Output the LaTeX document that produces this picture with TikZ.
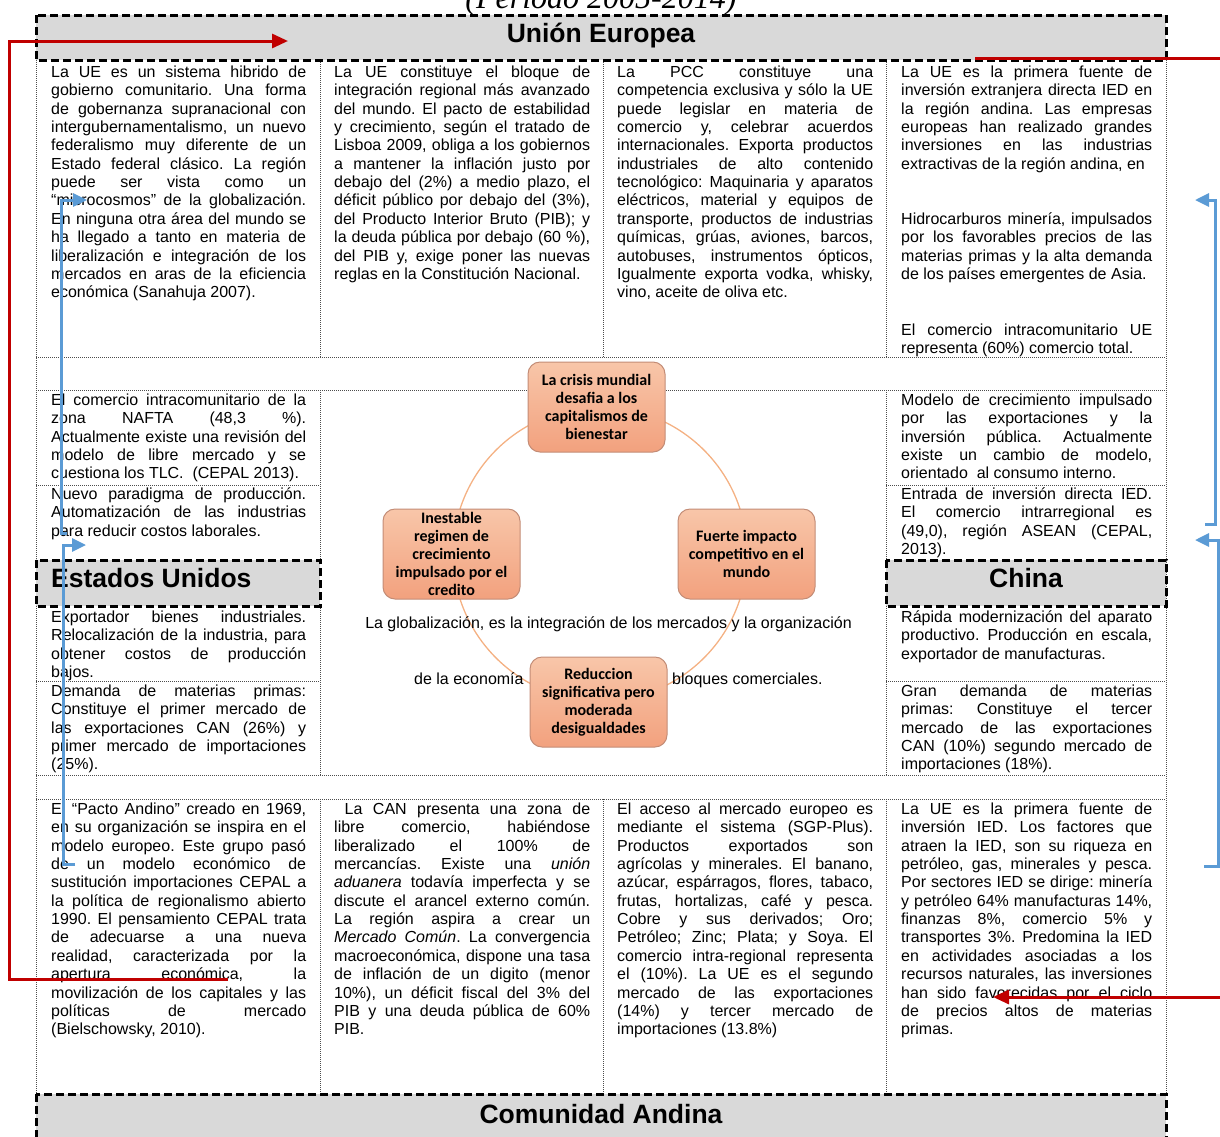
\documentclass[tikz,border=0pt]{standalone}
\usepackage{fontspec}
\setmainfont{Liberation Sans}
\newfontfamily\calibri{Carlito}
\newfontfamily\timesf{Liberation Serif}
\usetikzlibrary{arrows.meta}
\definecolor{hdrgray}{HTML}{D9D9D9}
\definecolor{arrred}{HTML}{C00000}
\definecolor{arrblue}{HTML}{5B9BD5}
\definecolor{ringorange}{HTML}{F4B183}
\definecolor{bubtop}{HTML}{F8C6A9}
\definecolor{bubbot}{HTML}{F2A17E}
\definecolor{bubline}{HTML}{C38C76}
\tolerance=10000 \hbadness=10000 \hyphenpenalty=10000 \exhyphenpenalty=10000
\frenchspacing
\tikzset{
cell/.style={anchor=base west, inner sep=0pt, text width=#1, align=justify, font=\fontsize{16}{18.35}\selectfont},
cell/.default=255pt,
hdr/.style={draw=black, line width=3pt, dash pattern=on 8pt off 4pt, fill=hdrgray},
hdrtext/.style={inner sep=0pt, font=\fontsize{26.5}{30}\selectfont\bfseries},
grid/.style={line width=1pt, dash pattern=on 1pt off 1pt, black!70},
bubble/.style={draw=bubline, line width=1pt, rounded corners=12pt, top color=bubtop, bottom color=bubbot, minimum width=137pt, minimum height=90pt, align=center, inner sep=1pt, font=\calibri\bfseries\fontsize{16}{18}\selectfont},
plain/.style={inner sep=0pt, font=\fontsize{16}{18.35}\selectfont},
redarr/.style={draw=arrred, line width=3pt, -{Triangle[length=16pt,width=14pt]}},
bluearr/.style={draw=arrblue, line width=3pt, -{Triangle[length=14pt,width=13pt]}}
}
\begin{document}
\begin{tikzpicture}[x=1pt,y=-1pt]
\useasboundingbox (0,0) rectangle (1220,1136);
\node[anchor=base, inner sep=0pt, font=\timesf\itshape\fontsize{32}{36}\selectfont] (periodo) at (601,8) {(Periodo 2005-2014)};
% dotted table lines
\draw[grid] (36,60) -- (36,1094);
\draw[grid] (1166,60) -- (1166,1094);
\foreach \x in {320,603,886} % top and bottom row columns
{\draw[grid] (\x,60) -- (\x,357); \draw[grid] (\x,799) -- (\x,1094);}
\foreach \y in {357,390,775,799}
\draw[grid] (36,\y) -- (1166,\y);
\foreach \x in {320,886} % side columns
{\draw[grid] (\x,390) -- (\x,560); \draw[grid] (\x,606) -- (\x,775);}
\foreach \y in {485,681}
{\draw[grid] (36,\y) -- (320,\y); \draw[grid] (886,\y) -- (1166,\y);}
% headers
\draw[hdr] (36,15) rectangle (1166,60);
\node[hdrtext, anchor=base] (ue) at (601,42) {Unión Europea};
\draw[hdr] (36,560) rectangle (320,606);
\node[hdrtext, anchor=base west] (eeuu) at (51,587) {Estados Unidos};
\draw[hdr] (886,560) rectangle (1166,606);
\node[hdrtext, anchor=base] (china) at (1026,587) {China};
\draw[hdr] (36,1094) rectangle (1166,1160);
\node[hdrtext, anchor=base] (can) at (601,1123) {Comunidad Andina};
% top row
\node[cell] (ueA) at (51,77.5) {La UE es un sistema hibrido de\linebreak gobierno comunitario. Una forma\linebreak de gobernanza supranacional con\linebreak intergubernamentalismo, un nuevo\linebreak federalismo muy diferente de un\linebreak Estado federal clásico. La región\linebreak puede ser vista como un\linebreak “microcosmos” de la globalización.\linebreak En ninguna otra área del mundo se\linebreak ha llegado a tanto en materia de\linebreak liberalización e integración de los\linebreak mercados en aras de la eficiencia\linebreak económica (Sanahuja 2007).};
\node[cell=256pt] (ueB) at (334,77.5) {La UE constituye el bloque de\linebreak integración regional más avanzado\linebreak del mundo. El pacto de estabilidad\linebreak y crecimiento, según el tratado de\linebreak Lisboa 2009, obliga a los gobiernos\linebreak a mantener la inflación justo por\linebreak debajo del (2\%) a medio plazo, el\linebreak déficit público por debajo del (3\%),\linebreak del Producto Interior Bruto (PIB); y\linebreak la deuda pública por debajo (60 \%),\linebreak del PIB y, exige poner las nuevas\linebreak reglas en la Constitución Nacional.};
\node[cell=256pt] (ueC) at (617,77.5) {La PCC constituye una\linebreak competencia exclusiva y sólo la UE\linebreak puede legislar en materia de\linebreak comercio y, celebrar acuerdos\linebreak internacionales. Exporta productos\linebreak industriales de alto contenido\linebreak tecnológico: Maquinaria y aparatos\linebreak eléctricos, material y equipos de\linebreak transporte, productos de industrias\linebreak químicas, grúas, aviones, barcos,\linebreak autobuses, instrumentos ópticos,\linebreak Igualmente exporta vodka, whisky,\linebreak vino, aceite de oliva etc.};
\node[cell=251pt] (ueD) at (901,77.5) {La UE es la primera fuente de\linebreak inversión extranjera directa IED en\linebreak la región andina. Las empresas\linebreak europeas han realizado grandes\linebreak inversiones en las industrias\linebreak \mbox{extractivas de la región andina, en}};
\node[cell=251pt] (ueE) at (901,224.5) {Hidrocarburos minería, impulsados\linebreak por los favorables precios de las\linebreak materias primas y la alta demanda\linebreak de los países emergentes de Asia.};
\node[cell=251pt] (ueF) at (901,335.5) {El comercio intracomunitario UE\linebreak representa (60\%) comercio total.};
% Estados Unidos
\node[cell] (euA) at (51,405.5) {El comercio intracomunitario de la\linebreak zona NAFTA (48,3 \%).\linebreak Actualmente existe una revisión del\linebreak modelo de libre mercado y se\linebreak cuestiona los TLC.\ \ (CEPAL 2013).};
\node[cell] (euB) at (51,499.5) {Nuevo paradigma de producción.\linebreak Automatización de las industrias\linebreak para reducir costos laborales.};
\node[cell] (euC) at (51,622.5) {Exportador bienes industriales.\linebreak Relocalización de la industria, para\linebreak obtener costos de producción\linebreak bajos.};
\node[cell] (euD) at (51,696.5) {Demanda de materias primas:\linebreak Constituye el primer mercado de\linebreak las exportaciones CAN (26\%) y\linebreak primer mercado de importaciones\linebreak (25\%).};
% China
\node[cell=251pt] (chA) at (901,405.5) {Modelo de crecimiento impulsado\linebreak por las exportaciones y la\linebreak inversión pública. Actualmente\linebreak existe un cambio de modelo,\linebreak orientado\ \ al consumo interno.};
\node[cell=251pt] (chB) at (901,499.5) {Entrada de inversión directa IED.\linebreak El comercio intrarregional es\linebreak (49,0), región ASEAN (CEPAL,\linebreak 2013).};
\node[cell=251pt] (chC) at (901,622.5) {Rápida modernización del aparato\linebreak productivo. Producción en escala,\linebreak exportador de manufacturas.};
\node[cell=251pt] (chD) at (901,696.5) {Gran demanda de materias\linebreak primas: Constituye el tercer\linebreak mercado de las exportaciones\linebreak CAN (10\%) segundo mercado de\linebreak importaciones (18\%).};
% Comunidad Andina
\node[cell] (canA) at (51,814.5) {El “Pacto Andino” creado en 1969,\linebreak en su organización se inspira en el\linebreak modelo europeo. Este grupo pasó\linebreak de un modelo económico de\linebreak sustitución importaciones CEPAL a\linebreak la política de regionalismo abierto\linebreak 1990. El pensamiento CEPAL trata\linebreak de adecuarse a una nueva\linebreak realidad, caracterizada por la\linebreak apertura económica, la\linebreak movilización de los capitales y las\linebreak políticas de mercado\linebreak (Bielschowsky, 2010).};
\node[cell=256pt] (canB) at (334,814.5) {\ La CAN presenta una zona de\linebreak libre comercio, habiéndose\linebreak liberalizado el 100\% de\linebreak mercancías. Existe una \textit{unión}\linebreak \textit{aduanera} todavía imperfecta y se\linebreak discute el arancel externo común.\linebreak La región aspira a crear un\linebreak \textit{Mercado Común}. La convergencia\linebreak macroeconómica, dispone una tasa\linebreak de inflación de un digito (menor\linebreak 10\%), un déficit fiscal del 3\% del\linebreak PIB y una deuda pública de 60\%\linebreak PIB.};
\node[cell=256pt] (canC) at (617,814.5) {El acceso al mercado europeo es\linebreak mediante el sistema (SGP-Plus).\linebreak Productos exportados son\linebreak agrícolas y minerales. El banano,\linebreak azúcar, espárragos, flores, tabaco,\linebreak frutas, hortalizas, café y pesca.\linebreak Cobre y sus derivados; Oro;\linebreak Petróleo; Zinc; Plata; y Soya. El\linebreak comercio intra-regional representa\linebreak el (10\%). La UE es el segundo\linebreak mercado de las exportaciones\linebreak (14\%) y tercer mercado de\linebreak importaciones (13.8\%)};
\node[cell=251pt] (canD) at (901,814.5) {La UE es la primera fuente de\linebreak inversión IED. Los factores que\linebreak atraen la IED, son su riqueza en\linebreak petróleo, gas, minerales y pesca.\linebreak Por sectores IED se dirige: minería\linebreak y petróleo 64\% manufacturas 14\%,\linebreak finanzas 8\%, comercio 5\% y\linebreak transportes 3\%. Predomina la IED\linebreak en actividades asociadas a los\linebreak recursos naturales, las inversiones\linebreak han sido favorecidas por el ciclo\linebreak de precios altos de materias\linebreak primas.};
% cycle in the middle
\draw[ringorange, line width=1.3pt] (600,554) circle[radius=147];
\node[plain, anchor=base] (glob) at (608.5,628) {La globalización, es la integración de los mercados y la organización};
\node[plain, anchor=base west] (econ) at (414,684) {de la economía};
\node[plain, anchor=base west] (bloq) at (672,684) {bloques comerciales.};
\node[bubble] (crisis) at (596.5,407) {La crisis mundial\\desafia a los\\capitalismos de\\bienestar};
\node[bubble] (credito) at (451.5,554) {Inestable\\regimen de\\crecimiento\\impulsado por el\\credito};
\node[bubble] (impacto) at (746.5,554) {Fuerte impacto\\competitivo en el\\mundo};
\node[bubble] (desig) at (598.5,702) {Reduccion\\significativa pero\\moderada\\desigualdades};
% red arrows
\coordinate (redTop) at (288,41);
\coordinate (redBot) at (228,979);
\draw[redarr] (redBot) -| (9,41) -- (redTop);
\coordinate (redR1) at (975,58);
\coordinate (redR2) at (1240,58);
\draw[arrred, line width=3pt] (redR1) -- (redR2);
\coordinate (redR3) at (1240,997);
\coordinate (redR4) at (993,997);
\draw[redarr] (redR3) -- (redR4);
% blue arrows
\coordinate (blA) at (87,200);
\coordinate (blA0) at (67,533);
\draw[bluearr] (blA0) -- (61,533) |- (blA);
\coordinate (blB) at (86,545);
\coordinate (blB0) at (75,864);
\draw[bluearr] (blB0) -- (63,864) |- (blB);
\coordinate (brA) at (1195,200);
\coordinate (brA0) at (1205,524);
\draw[bluearr] (brA0) -- (1215,524) |- (brA);
\coordinate (brB) at (1195,540);
\coordinate (brB0) at (1204,866);
\draw[bluearr] (brB0) -- (1218,866) |- (brB);
\end{tikzpicture}
\end{document}
